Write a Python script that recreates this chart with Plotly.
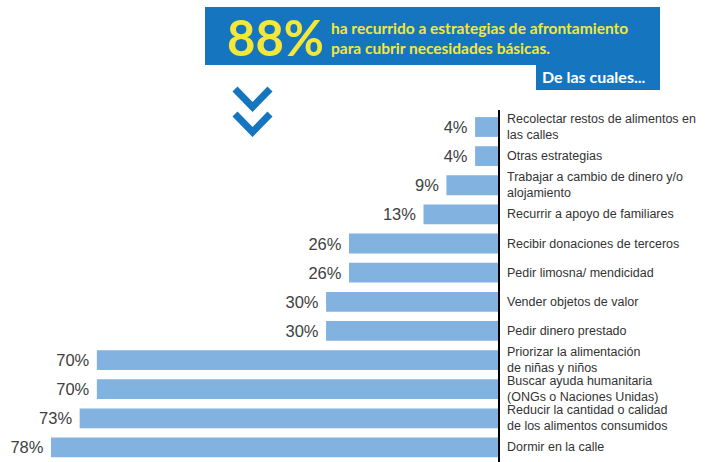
import plotly.graph_objects as go

strategies = [
    "Recolectar restos de alimentos en<br>las calles",
    "Otras estrategias",
    "Trabajar a cambio de dinero y/o<br>alojamiento",
    "Recurrir a apoyo de familiares",
    "Recibir donaciones de terceros",
    "Pedir limosna/ mendicidad",
    "Vender objetos de valor",
    "Pedir dinero prestado",
    "Priorizar la alimentación<br>de niñas y niños",
    "Buscar ayuda humanitaria<br>(ONGs o Naciones Unidas)",
    "Reducir la cantidad o calidad<br>de los alimentos consumidos",
    "Dormir en la calle",
]
percentages = [4, 4, 9, 13, 26, 26, 30, 30, 70, 70, 73, 78]
headline_value = "88%"
headline_text = "ha recurrido a estrategias de afrontamiento<br>para cubrir necesidades básicas."
subheadline = "De las cuales..."

W, H = 709, 462
BLUE = "#1575BE"
YELLOW = "#F3E83A"
BAR = "#82B2E0"

def px(x):
    return x / W

def py(y):
    return (H - y) / H

fig = go.Figure()
fig.add_trace(go.Bar(
    x=percentages, y=strategies, orientation="h",
    marker=dict(color=BAR, line=dict(width=0)),
    width=0.68,
    texttemplate="%{x}%\u00a0", textposition="outside",
    outsidetextfont=dict(family="Liberation Sans, Arial", size=16.5, color="#404040"),
    cliponaxis=False, hoverinfo="skip",
))

annotations = []
for s in strategies:
    annotations.append(dict(
        x=px(505), xref="paper", y=s, yref="y", text=s, showarrow=False,
        xanchor="left", align="left", yanchor="middle",
        font=dict(family="Liberation Sans, Arial", size=12.5, color="#333333"),
    ))

# header texts
annotations.append(dict(
    x=px(225), y=py(37), xref="paper", yref="paper", text="<b>" + headline_value + "</b>",
    showarrow=False, xanchor="left", yanchor="middle",
    font=dict(family="Lato, Open Sans", size=49, color=YELLOW),
))
annotations.append(dict(
    x=px(329), y=py(38), xref="paper", yref="paper", text="<b>" + headline_text + "</b>",
    showarrow=False, xanchor="left", yanchor="middle", align="left",
    font=dict(family="Lato, Open Sans", size=15.5, color=YELLOW),
))
annotations.append(dict(
    x=px(594), y=py(77), xref="paper", yref="paper", text="<b>" + subheadline + "</b>",
    showarrow=False, xanchor="center", yanchor="middle",
    font=dict(family="Lato, Open Sans", size=16, color="white"),
))

shapes = [
    dict(type="rect", xref="paper", yref="paper", x0=px(205), x1=px(660), y0=py(65), y1=py(7),
         fillcolor=BLUE, line=dict(width=0), layer="below"),
    dict(type="rect", xref="paper", yref="paper", x0=px(536), x1=px(660), y0=py(90), y1=py(64),
         fillcolor=BLUE, line=dict(width=0), layer="below"),
]
for y0 in (89, 114):
    shapes.append(dict(
        type="path", xref="paper", yref="paper",
        path=f"M {px(235)} {py(y0)} L {px(252.5)} {py(y0+18)} L {px(270)} {py(y0)}",
        line=dict(color=BLUE, width=7), fillcolor="rgba(0,0,0,0)",
    ))

fig.update_layout(
    width=W, height=H,
    margin=dict(l=0, r=0, t=0, b=0),
    paper_bgcolor="white", plot_bgcolor="white",
    showlegend=False,
    xaxis=dict(domain=[0, px(498)], range=[86.9, 0], showgrid=False, zeroline=False,
               showticklabels=False, showline=False),
    yaxis=dict(domain=[0, py(110)], categoryorder="array", categoryarray=strategies,
               autorange="reversed", showgrid=False, zeroline=False, showticklabels=False,
               side="right", showline=True, linecolor="black", linewidth=2, ticks=""),
    annotations=annotations, shapes=shapes,
)

fig.write_html(
    "out.html",
    config={"displayModeBar": False},
    post_script="document.body.style.margin='0';document.body.style.overflow='hidden';",
)
